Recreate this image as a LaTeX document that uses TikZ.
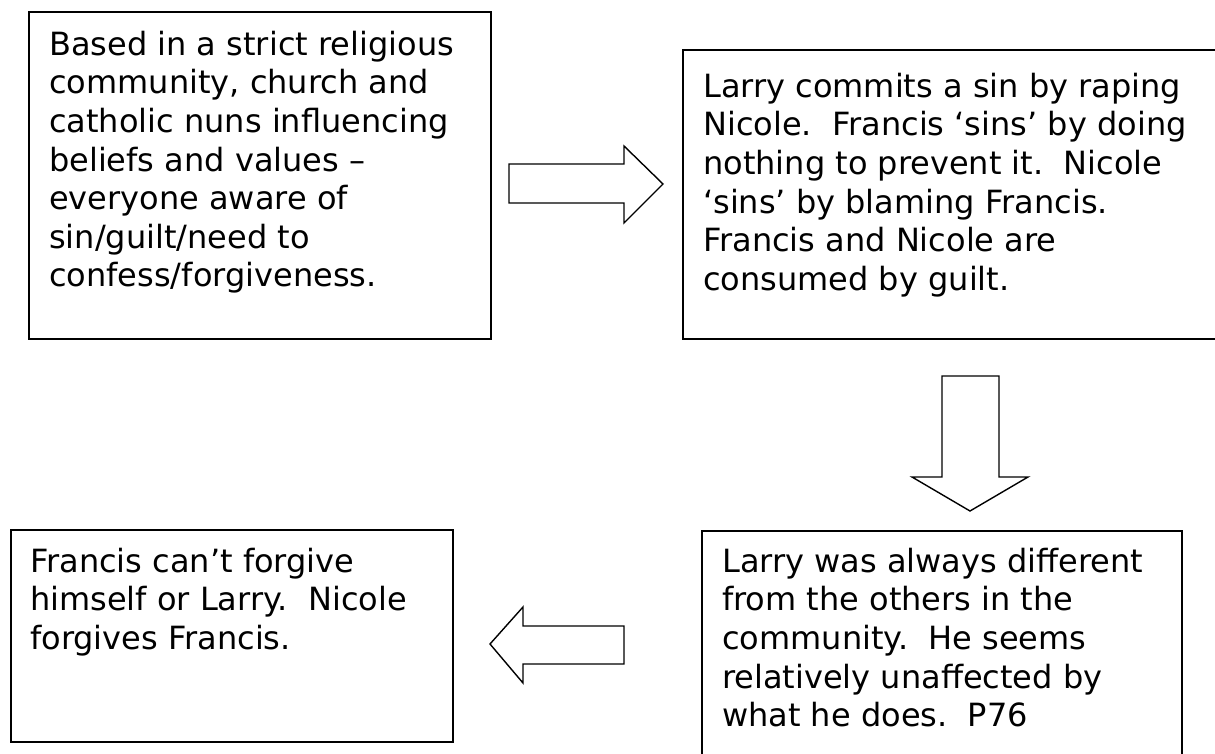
\documentclass[tikz,border=0pt]{standalone}
\usepackage{fontspec}
\setmainfont{DejaVu Sans}
\begin{document}
\begin{tikzpicture}[x=1pt,y=-1pt,
  box/.style={draw, line width=1.9pt, anchor=north west, inner sep=0pt, minimum width=#1},
  txt/.style={anchor=north west, inner sep=0pt, align=left, font=\fontsize{32}{38.6}\selectfont},
  blockarrow/.style={draw, line width=1.4pt, line join=miter, fill=white}]
\useasboundingbox (0,0) rectangle (1215,754);
% boxes
\node[box=462pt, minimum height=327pt] (b1) at (28,11) {};
\node[box=560pt, minimum height=289pt] (b2) at (682,49) {};
\node[box=442pt, minimum height=212pt] (b3) at (10,529) {};
\node[box=480pt, minimum height=260pt] (b4) at (701,530) {};
% texts (first baseline = top + 27.02pt strut height)
\node[txt] (t1) at (49,28) {\strut Based in a strict religious\\community, church and\\catholic nuns influencing\\beliefs and values –\\everyone aware of\\sin/guilt/need to\\confess/forgiveness.};
\node[txt] (t2) at (703,70) {\strut Larry commits a sin by raping\\Nicole.\ \ Francis ‘sins’ by doing\\nothing to prevent it.\ \ Nicole\\‘sins’ by blaming Francis.\\Francis and Nicole are\\consumed by guilt.};
\node[txt] (t3) at (30,545) {\strut Francis can’t forgive\\himself or Larry.\ \ Nicole\\forgives Francis.};
\node[txt] (t4) at (722,545) {\strut Larry was always different\\from the others in the\\community.\ \ He seems\\relatively unaffected by\\what he does.\ \ P76};
% block arrows
\draw[blockarrow] (509,164) -- (624,164) -- (624,146) -- (663,184) -- (624,223) -- (624,203) -- (509,203) -- cycle;
\draw[blockarrow] (942,376) -- (999,376) -- (999,477) -- (1028,477) -- (970,511) -- (912,477) -- (942,477) -- cycle;
\draw[blockarrow] (624,626) -- (523,626) -- (523,607) -- (490,644) -- (523,683) -- (523,664) -- (624,664) -- cycle;
\end{tikzpicture}
\end{document}
